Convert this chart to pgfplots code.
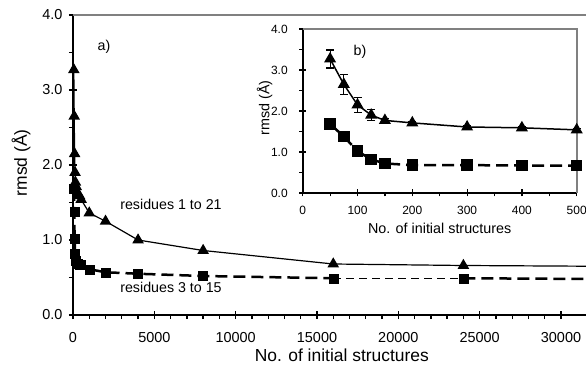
\documentclass[border=0pt]{standalone}
\usepackage{pgfplots}
\pgfplotsset{compat=1.18}
\usepackage{pgfplotstable}
\usepackage{fontspec}
\setmainfont{Liberation Sans}
\definecolor{edgegray}{RGB}{128,128,128}

\pgfplotstableread{
x tri trie sq sqe
50 3.27 0.22 1.68 0.08
75 2.65 0.25 1.38 0.12
100 2.15 0.18 1.02 0.10
125 1.90 0.13 0.82 0.05
150 1.77 0.04 0.72 0.03
200 1.71 0.03 0.68 0.03
300 1.61 0.03 0.68 0.03
400 1.59 0.03 0.67 0.03
500 1.54 0.03 0.67 0.03
}\insetdata

\pgfplotstableread{
x tri sq
50 3.27 1.68
75 2.65 1.38
100 2.15 1.02
125 1.90 0.82
150 1.77 0.72
200 1.71 0.68
300 1.61 0.68
400 1.59 0.67
500 1.54 0.67
1000 1.36 0.61
2000 1.25 0.57
4000 1.00 0.55
8000 0.86 0.52
16000 0.68 0.49
24000 0.66 0.49
32000 0.65 0.48
}\maindata

\begin{document}
\begin{tikzpicture}
\useasboundingbox (0,0) rectangle (586bp,365bp);
\begin{axis}[
  at={(73bp,50bp)}, anchor=south west,
  scale only axis, width=513bp, height=300bp,
  xmin=0, xmax=31537, ymin=0, ymax=4,
  clip=false,
  axis lines*=left,
  axis line style={black, line width=1.8bp},
  xtick={0,5000,...,30000}, minor x tick num=4,
  ytick={0,1,2,3,4}, minor y tick num=1,
  tick align=center,
  major tick length=8bp, minor tick length=4bp,
  tick style={black, line width=1.3bp},
  minor x tick style={yshift=-2bp},
  minor y tick style={xshift=-2bp},
  scaled x ticks=false,
  /pgf/number format/assume math mode=true,
  xticklabel style={/pgf/number format/set thousands separator={}, font=\fontsize{14.5}{16}\selectfont, yshift=-10bp},
  yticklabel style={/pgf/number format/fixed, /pgf/number format/fixed zerofill, /pgf/number format/precision=1, font=\fontsize{14.5}{16}\selectfont, xshift=-3bp},
  xlabel={No. of initial structures}, ylabel={rmsd (Å)},
  xlabel style={at={(axis description cs:0.524,0)}, anchor=center, yshift=-40bp, font=\fontsize{17.5}{20}\selectfont},
  ylabel style={at={(axis description cs:0,0.507)}, anchor=center, rotate=0, yshift=52bp, font=\fontsize{17.5}{20}\selectfont},
]
\draw[edgegray, line width=1.5bp] (rel axis cs:0,1) -- (rel axis cs:1,1);
\addplot[black, line width=1.2bp, mark=triangle*, mark size=5.5bp, mark options={solid}] table[x=x,y=tri]{\maindata};
\addplot[black, line width=2.5bp, dash pattern=on 12bp off 6bp, restrict x to domain=0:16000, forget plot] table[x=x,y=sq]{\maindata};
\addplot[black, line width=1bp, dash pattern=on 8bp off 5bp, restrict x to domain=16000:24000, forget plot] table[x=x,y=sq]{\maindata};
\addplot[black, line width=2.5bp, dash pattern=on 12bp off 6bp, restrict x to domain=24000:33000, forget plot] table[x=x,y=sq]{\maindata};
\addplot[black, only marks, mark=square*, mark size=4.5bp] table[x=x,y=sq]{\maindata};
\node[font=\fontsize{14.3}{16}\selectfont] at (axis cs:1906,3.57) {a)};
\node[font=\fontsize{14.3}{16}\selectfont] at (axis cs:6025,1.48) {residues 1 to 21};
\node[font=\fontsize{14.3}{16}\selectfont] at (axis cs:6025,0.37) {residues 3 to 15};
\end{axis}

\begin{axis}[
  at={(302.7bp,172bp)}, anchor=south west,
  scale only axis, width=274bp, height=164bp,
  xmin=0, xmax=500, ymin=0, ymax=4,
  clip=false,
  axis lines*=left,
  axis line style={black, line width=1.8bp},
  xtick={0,100,...,500}, minor x tick num=1,
  ytick={0,1,2,3,4}, minor y tick num=1,
  tick align=center,
  major tick length=7bp, minor tick length=3.5bp,
  tick style={black, line width=1.2bp},
  minor x tick style={yshift=-1.75bp},
  minor y tick style={xshift=-1.75bp},
  /pgf/number format/assume math mode=true,
  xticklabel style={font=\fontsize{12}{14}\selectfont, yshift=-6bp},
  yticklabel style={/pgf/number format/fixed, /pgf/number format/fixed zerofill, /pgf/number format/precision=1, font=\fontsize{12}{14}\selectfont, xshift=-8bp},
  xlabel={No. of initial structures}, ylabel={rmsd (Å)},
  xlabel style={at={(axis description cs:0.5,0)}, anchor=center, yshift=-35bp, font=\fontsize{14.4}{16}\selectfont},
  ylabel style={at={(axis description cs:0,0.52)}, anchor=center, yshift=38bp, font=\fontsize{14.4}{16}\selectfont},
]
\draw[edgegray, line width=2bp] (rel axis cs:0,1) -- (rel axis cs:1,1) -- (rel axis cs:1,0);
\addplot[black, line width=1.5bp, mark=triangle*, mark size=5.5bp, mark options={solid},
  error bars/.cd, y dir=both, y explicit, error bar style={line width=1.2bp}, error mark options={rotate=90, mark size=4bp, line width=1.2bp}]
  table[x=x,y=tri,y error=trie]{\insetdata};
\addplot[black, line width=2.5bp, dash pattern=on 12bp off 6bp, mark=square*, mark size=4.5bp, mark options={solid},
  error bars/.cd, y dir=both, y explicit, error bar style={line width=1.2bp, solid}, error mark options={rotate=90, mark size=4bp, line width=1.2bp, solid}]
  table[x=x,y=sq,y error=sqe]{\insetdata};
\node[font=\fontsize{14.3}{16}\selectfont] at (axis cs:104.6,3.44) {b)};
\end{axis}
\end{tikzpicture}
\end{document}
